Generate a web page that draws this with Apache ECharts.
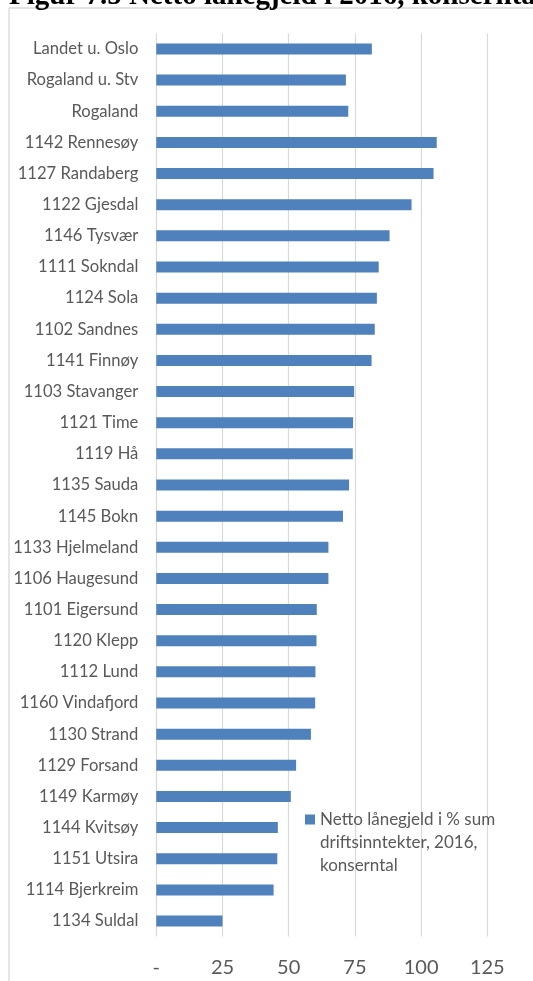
<!DOCTYPE html>
<html>
<head>
<meta charset="utf-8">
<script src="https://cdn.jsdelivr.net/npm/echarts@6/dist/echarts.min.js"></script>
<style>
html,body{margin:0;padding:0;background:#fff;}
#chart{width:533px;height:981px;}
</style>
</head>
<body>
<div id="chart"></div>
<script>
const titleText = 'Figur 7.5 Netto lånegjeld i 2016, konserntal';
const seriesName = 'Netto lånegjeld i % sum driftsinntekter, 2016, konserntal';
const categories = [
  'Landet u. Oslo', 'Rogaland u. Stv', 'Rogaland', '1142 Rennesøy', '1127 Randaberg',
  '1122 Gjesdal', '1146 Tysvær', '1111 Sokndal', '1124 Sola', '1102 Sandnes',
  '1141 Finnøy', '1103 Stavanger', '1121 Time', '1119 Hå', '1135 Sauda',
  '1145 Bokn', '1133 Hjelmeland', '1106 Haugesund', '1101 Eigersund', '1120 Klepp',
  '1112 Lund', '1160 Vindafjord', '1130 Strand', '1129 Forsand', '1149 Karmøy',
  '1144 Kvitsøy', '1151 Utsira', '1114 Bjerkreim', '1134 Suldal'
];
const values = [
  81.4, 71.6, 72.5, 105.9, 104.7,
  96.4, 88.1, 84.0, 83.3, 82.5,
  81.3, 74.7, 74.3, 74.2, 72.8,
  70.5, 65.0, 65.0, 60.6, 60.5,
  60.1, 60.0, 58.4, 52.8, 50.8,
  45.9, 45.7, 44.3, 25.0
];
const xTicks = { min: 0, max: 125, interval: 25 };

const chart = echarts.init(document.getElementById('chart'), null, { renderer: 'canvas' });
const labelFont = 'Lato';
chart.setOption({
  animation: false,
  backgroundColor: '#ffffff',
  grid: { left: 156.3, right: 45.7, top: 33.4, bottom: 44.4, containLabel: false },
  legend: {
    show: true,
    left: 305,
    top: 808,
    padding: 0,
    itemWidth: 10,
    itemHeight: 56,
    itemGap: 5,
    icon: 'path://M0,0L10,0L10,10L0,10Z M0,56',
    formatter: function () { return 'Netto lånegjeld i % sum\ndriftsinntekter, 2016,\nkonserntal'; },
    textStyle: { fontFamily: labelFont, fontSize: 17, lineHeight: 23, color: '#595959' }
  },
  xAxis: {
    type: 'value',
    min: xTicks.min, max: xTicks.max, interval: xTicks.interval,
    axisLine: { show: false },
    axisTick: { show: false },
    splitLine: { show: true, lineStyle: { color: '#D9D9D9', width: 1.2 } },
    axisLabel: {
      margin: 21,
      fontFamily: labelFont, fontSize: 20, color: '#595959',
      formatter: function (v) { return v === 0 ? '-' : String(v); }
    }
  },
  yAxis: {
    type: 'category',
    data: categories,
    inverse: true,
    axisLine: { show: false },
    axisTick: { show: false },
    axisLabel: { margin: 18, fontFamily: labelFont, fontSize: 16.6, color: '#595959' }
  },
  series: [{
    name: seriesName,
    type: 'bar',
    data: values,
    barWidth: 11,
    itemStyle: { color: '#4F81BD' }
  }],
  graphic: [
    { type: 'line', shape: { x1: 9, y1: 8, x2: 533, y2: 8 }, style: { stroke: '#D9D9D9', lineWidth: 1.3 }, silent: true },
    { type: 'line', shape: { x1: 9, y1: 8, x2: 9, y2: 981 }, style: { stroke: '#D9D9D9', lineWidth: 1.3 }, silent: true },
    { type: 'text', left: 9, top: -18, silent: true,
      style: { text: titleText, font: 'bold 29px "Liberation Serif"', fill: '#000000' } }
  ]
});
</script>
</body>
</html>
